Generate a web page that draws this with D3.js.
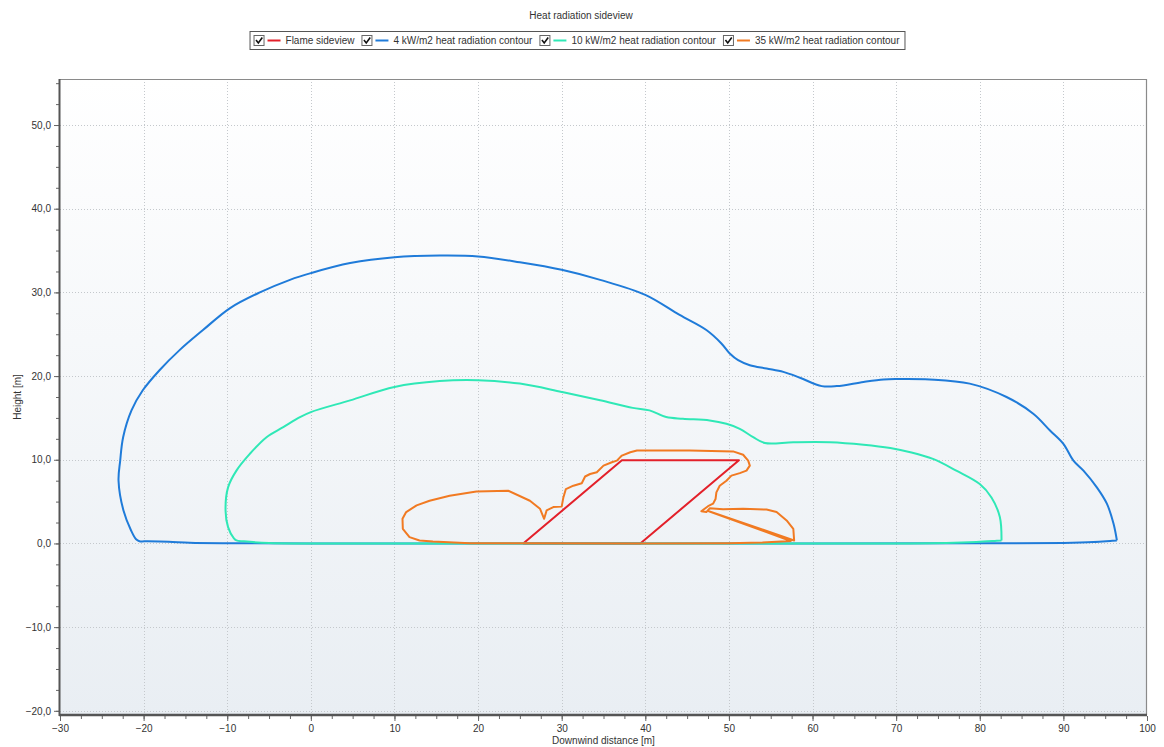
<!DOCTYPE html>
<html>
<head>
<meta charset="utf-8">
<script src="https://cdn.jsdelivr.net/npm/d3@7"></script>
<style>
  body { margin: 0; background: #fff; }
  svg { display: block; font-family: "Liberation Sans", Arial, sans-serif; }
</style>
</head>
<body>
<svg id="chart" width="1164" height="747"></svg>
<script>
const seriesNames = [
  "Flame sideview",
  "4 kW/m2 heat radiation contour",
  "10 kW/m2 heat radiation contour",
  "35 kW/m2 heat radiation contour"
];
const seriesColors = ["#e3202a", "#1f7bd9", "#2fe8b6", "#f17a22"];

const xTicks = [-30, -20, -10, 0, 10, 20, 30, 40, 50, 60, 70, 80, 90, 100];
const yTicks = [-20, -10, 0, 10, 20, 30, 40, 50];

const flame = [[25.4, 0], [37.2, 9.93], [51.2, 9.93], [39.4, 0], [25.4, 0]];

const contour4 = [
  [96.4, 0.36], [95.6, 0.3], [93.6, 0.16], [90, 0.06], [80, 0.02], [60, 0], [20, 0], [0, 0],
  [-10, 0.02], [-14.5, 0.08], [-17, 0.2], [-19.5, 0.26], [-20.5, 0.27], [-20.9, 0.5],
  [-21.5, 1.55], [-22.4, 3.9], [-23.0, 7.5], [-22.8, 9.9], [-22.45, 12.7],
  [-21.45, 15.9], [-20.1, 18.3], [-18.1, 20.7], [-15.7, 23.1], [-12.9, 25.5],
  [-9.7, 28.1], [-6.1, 30.0], [-2.5, 31.5], [0, 32.3], [4.7, 33.5], [10, 34.2],
  [15.4, 34.4], [20, 34.3], [25, 33.6], [30, 32.7], [34.6, 31.5], [40, 29.7],
  [44.1, 27.3], [47.3, 25.5], [49.1, 23.9], [50.1, 22.7], [51.1, 21.9],
  [52.5, 21.3], [54.5, 20.9], [56.5, 20.5], [58.5, 19.8], [61.1, 18.8],
  [62.9, 18.8], [66.1, 19.3], [68.5, 19.6], [70.1, 19.65], [74.0, 19.6],
  [78.8, 19.1], [83.2, 17.5], [86.4, 15.5], [88.4, 13.5], [90, 11.9],
  [91.2, 9.9], [92.4, 8.7], [94.0, 6.7], [95.2, 4.75], [96.0, 2.35], [96.4, 0.36]
];

const contour10 = [
  [82.6, 0.36], [81.8, 0.3], [79.6, 0.16], [76, 0.04], [70, 0], [40, 0], [0, 0], [-5, 0.04],
  [-8, 0.25], [-8.9, 0.36], [-9.2, 0.6], [-9.9, 1.95], [-10.2, 3.9], [-9.9, 6.7], [-8.9, 8.7],
  [-7.3, 10.7], [-5.3, 12.7], [-3.3, 13.9], [-1.3, 15.1], [0, 15.7], [4.7, 17.1],
  [10, 18.7], [15.4, 19.4], [20, 19.5], [25, 19.1], [30, 18.1], [34.6, 17.1],
  [38.5, 16.2], [40.5, 15.9], [42.5, 15.1], [44.5, 14.9], [47.7, 14.7],
  [49.7, 14.3], [51.3, 13.7], [52.9, 12.7], [54.3, 12.0], [57.7, 12.1],
  [62.1, 12.1], [66.1, 11.8], [69.3, 11.4], [71.7, 10.9], [74.4, 10.1],
  [77.2, 8.7], [80, 7.1], [81.4, 5.5], [82.4, 3.15], [82.6, 0.36]
];

const contour35 = [
  [19, 0.02], [14.6, 0.24], [13.0, 0.36], [11.8, 0.75], [11.0, 1.75], [10.96, 2.95],
  [11.4, 3.75], [12.65, 4.55], [14.2, 5.1], [16.6, 5.7], [19.8, 6.2], [23.6, 6.3],
  [26.2, 5.1], [27.4, 4.15], [27.9, 2.95], [28.2, 3.95], [29.0, 4.35], [30.0, 4.4],
  [30.2, 5.5], [30.5, 6.5], [31.4, 6.9], [32.4, 7.2], [32.8, 8.0], [33.4, 8.3],
  [34.2, 8.5], [35.0, 9.3], [36.0, 9.7], [36.6, 9.9], [37.2, 10.5], [38.2, 10.9],
  [39.0, 11.1], [45.3, 11.1], [50.5, 11.0], [51.7, 10.6], [52.3, 9.9], [52.5, 9.3],
  [52.1, 8.7], [51.3, 8.4], [50.3, 8.1], [49.7, 7.5], [48.9, 6.9], [48.5, 6.1],
  [48.4, 5.3], [48.1, 4.75], [47.5, 4.45], [46.7, 3.85], [47.3, 3.75], [47.7, 4.2],
  [49.3, 4.1], [51.7, 4.15], [54.5, 4.05], [55.7, 3.75], [56.9, 2.75], [57.7, 1.75],
  [57.8, 0.36], [47.6, 3.85], [57.4, 0.3], [54, 0.1], [50, 0.02], [40, 0], [19, 0.02]
];

const seriesData = [flame, contour4, contour10, contour35];
// the two outer contours are smooth arcs, the flame and 35 kW contour keep corners
const seriesSmooth = [false, true, true, false];

const svg = d3.select("#chart");
const W = 1164, H = 747;
const m = { left: 60, right: 17, top: 79, bottom: 32 };

const x = d3.scaleLinear().domain([-30, 100]).range([m.left, W - m.right]);
const y = d3.scaleLinear().domain([-20.5, 55.5]).range([H - m.bottom, m.top]);

// plot background gradient
const defs = svg.append("defs");
const grad = defs.append("linearGradient").attr("id", "bg")
  .attr("x1", 0).attr("y1", 0).attr("x2", 0).attr("y2", 1);
grad.append("stop").attr("offset", "0%").attr("stop-color", "#ffffff");
grad.append("stop").attr("offset", "100%").attr("stop-color", "#e9eef3");

svg.append("rect")
  .attr("x", m.left).attr("y", m.top)
  .attr("width", W - m.left - m.right).attr("height", H - m.top - m.bottom)
  .attr("fill", "url(#bg)");

// grid
const grid = svg.append("g").attr("stroke", "#c4c8cc").attr("stroke-width", 1)
  .attr("stroke-dasharray", "1,2");
grid.selectAll("line.gx")
  .data(xTicks.filter(d => d > -30 && d < 100))
  .join("line")
  .attr("x1", d => Math.round(x(d)) + 0.5).attr("x2", d => Math.round(x(d)) + 0.5)
  .attr("y1", m.top).attr("y2", H - m.bottom);
grid.selectAll("line.gy")
  .data(yTicks)
  .join("line")
  .attr("y1", d => Math.round(y(d)) + 0.5).attr("y2", d => Math.round(y(d)) + 0.5)
  .attr("x1", m.left).attr("x2", W - m.right);

// frame top / right
svg.append("path")
  .attr("d", `M${m.left},${m.top + 0.5}H${W - m.right - 0.5}V${H - m.bottom}`)
  .attr("fill", "none").attr("stroke", "#8a8a8a").attr("stroke-width", 1.2);

// series
const sharp = d3.line().x(d => x(d[0])).y(d => y(d[1]));
const smooth = d3.line().x(d => x(d[0])).y(d => y(d[1])).curve(d3.curveCatmullRom.alpha(0.5));
const plot = svg.append("g");
seriesData.forEach((data, i) => {
  plot.append("path")
    .datum(data)
    .attr("d", seriesSmooth[i] ? smooth : sharp)
    .attr("fill", "none")
    .attr("stroke", seriesColors[i])
    .attr("stroke-width", 2)
    .attr("stroke-linejoin", "round");
});

// axes
const xAxis = d3.axisBottom(x).tickValues(xTicks).tickFormat(d3.format("d"))
  .tickSize(5).tickSizeOuter(0).tickPadding(4);
const xMinor = d3.axisBottom(x).tickValues(d3.range(-30, 100.1, 2.5))
  .tickSize(3).tickSizeOuter(0).tickFormat("");
const yAxis = d3.axisLeft(y).tickValues(yTicks)
  .tickFormat(d => d3.format(".1f")(d).replace(".", ","))
  .tickSize(5).tickSizeOuter(0).tickPadding(3);
const yMinor = d3.axisLeft(y).tickValues(d3.range(-20, 55.1, 2.5))
  .tickSize(3).tickSizeOuter(0).tickFormat("");

function styleAxis(g) {
  g.selectAll(".domain").remove();
  g.selectAll(".tick line").attr("stroke", "#666");
  g.selectAll(".tick text").attr("fill", "#333").attr("font-size", 10)
    .attr("font-family", "'Liberation Sans', Arial, sans-serif");
}

svg.append("g").attr("transform", `translate(0,${H - m.bottom + 1})`).call(xMinor).call(styleAxis);
svg.append("g").attr("transform", `translate(0,${H - m.bottom + 1})`).call(xAxis).call(styleAxis);
svg.append("g").attr("transform", `translate(${m.left - 1},0)`).call(yMinor).call(styleAxis);
svg.append("g").attr("transform", `translate(${m.left - 1},0)`).call(yAxis).call(styleAxis);

svg.append("line")
  .attr("x1", m.left - 1).attr("x2", W - m.right)
  .attr("y1", H - m.bottom).attr("y2", H - m.bottom)
  .attr("stroke", "#555").attr("stroke-width", 2.5);
svg.append("line")
  .attr("x1", m.left - 0.5).attr("x2", m.left - 0.5)
  .attr("y1", m.top).attr("y2", H - m.bottom + 1)
  .attr("stroke", "#555").attr("stroke-width", 2);

// axis titles
svg.append("text")
  .attr("x", (m.left + W - m.right) / 2).attr("y", 744)
  .attr("text-anchor", "middle").attr("font-size", 10).attr("fill", "#333")
  .text("Downwind distance [m]");
svg.append("text")
  .attr("transform", `translate(21,${(m.top + H - m.bottom) / 2}) rotate(-90)`)
  .attr("text-anchor", "middle").attr("font-size", 10).attr("fill", "#333")
  .text("Height [m]");

// title
svg.append("text")
  .attr("x", 581).attr("y", 19)
  .attr("text-anchor", "middle").attr("font-size", 10).attr("fill", "#333")
  .text("Heat radiation sideview");

// legend
const leg = svg.append("g");
const box = leg.append("rect")
  .attr("y", 31.5).attr("height", 18)
  .attr("fill", "#fff").attr("stroke", "#555").attr("stroke-width", 1);
let cx = 0;
seriesNames.forEach((name, i) => {
  const g = leg.append("g").attr("transform", `translate(${cx},0)`);
  g.append("rect").attr("x", 0.5).attr("y", 35.5).attr("width", 10).attr("height", 10)
    .attr("fill", "#fff").attr("stroke", "#666");
  g.append("path").attr("d", "M2.5,40 L4.8,43 L8.8,37.5")
    .attr("fill", "none").attr("stroke", "#111").attr("stroke-width", 1.6);
  g.append("line").attr("x1", 14).attr("x2", 27).attr("y1", 40.5).attr("y2", 40.5)
    .attr("stroke", seriesColors[i]).attr("stroke-width", 2);
  const t = g.append("text").attr("x", 32).attr("y", 44)
    .attr("font-size", 10).attr("fill", "#333").text(name);
  cx += 32 + t.node().getComputedTextLength() + 7;
});
const legW = cx + 2;
leg.attr("transform", `translate(${581 - legW / 2},0)`);
box.attr("x", -3.5).attr("width", legW);
</script>
</body>
</html>
